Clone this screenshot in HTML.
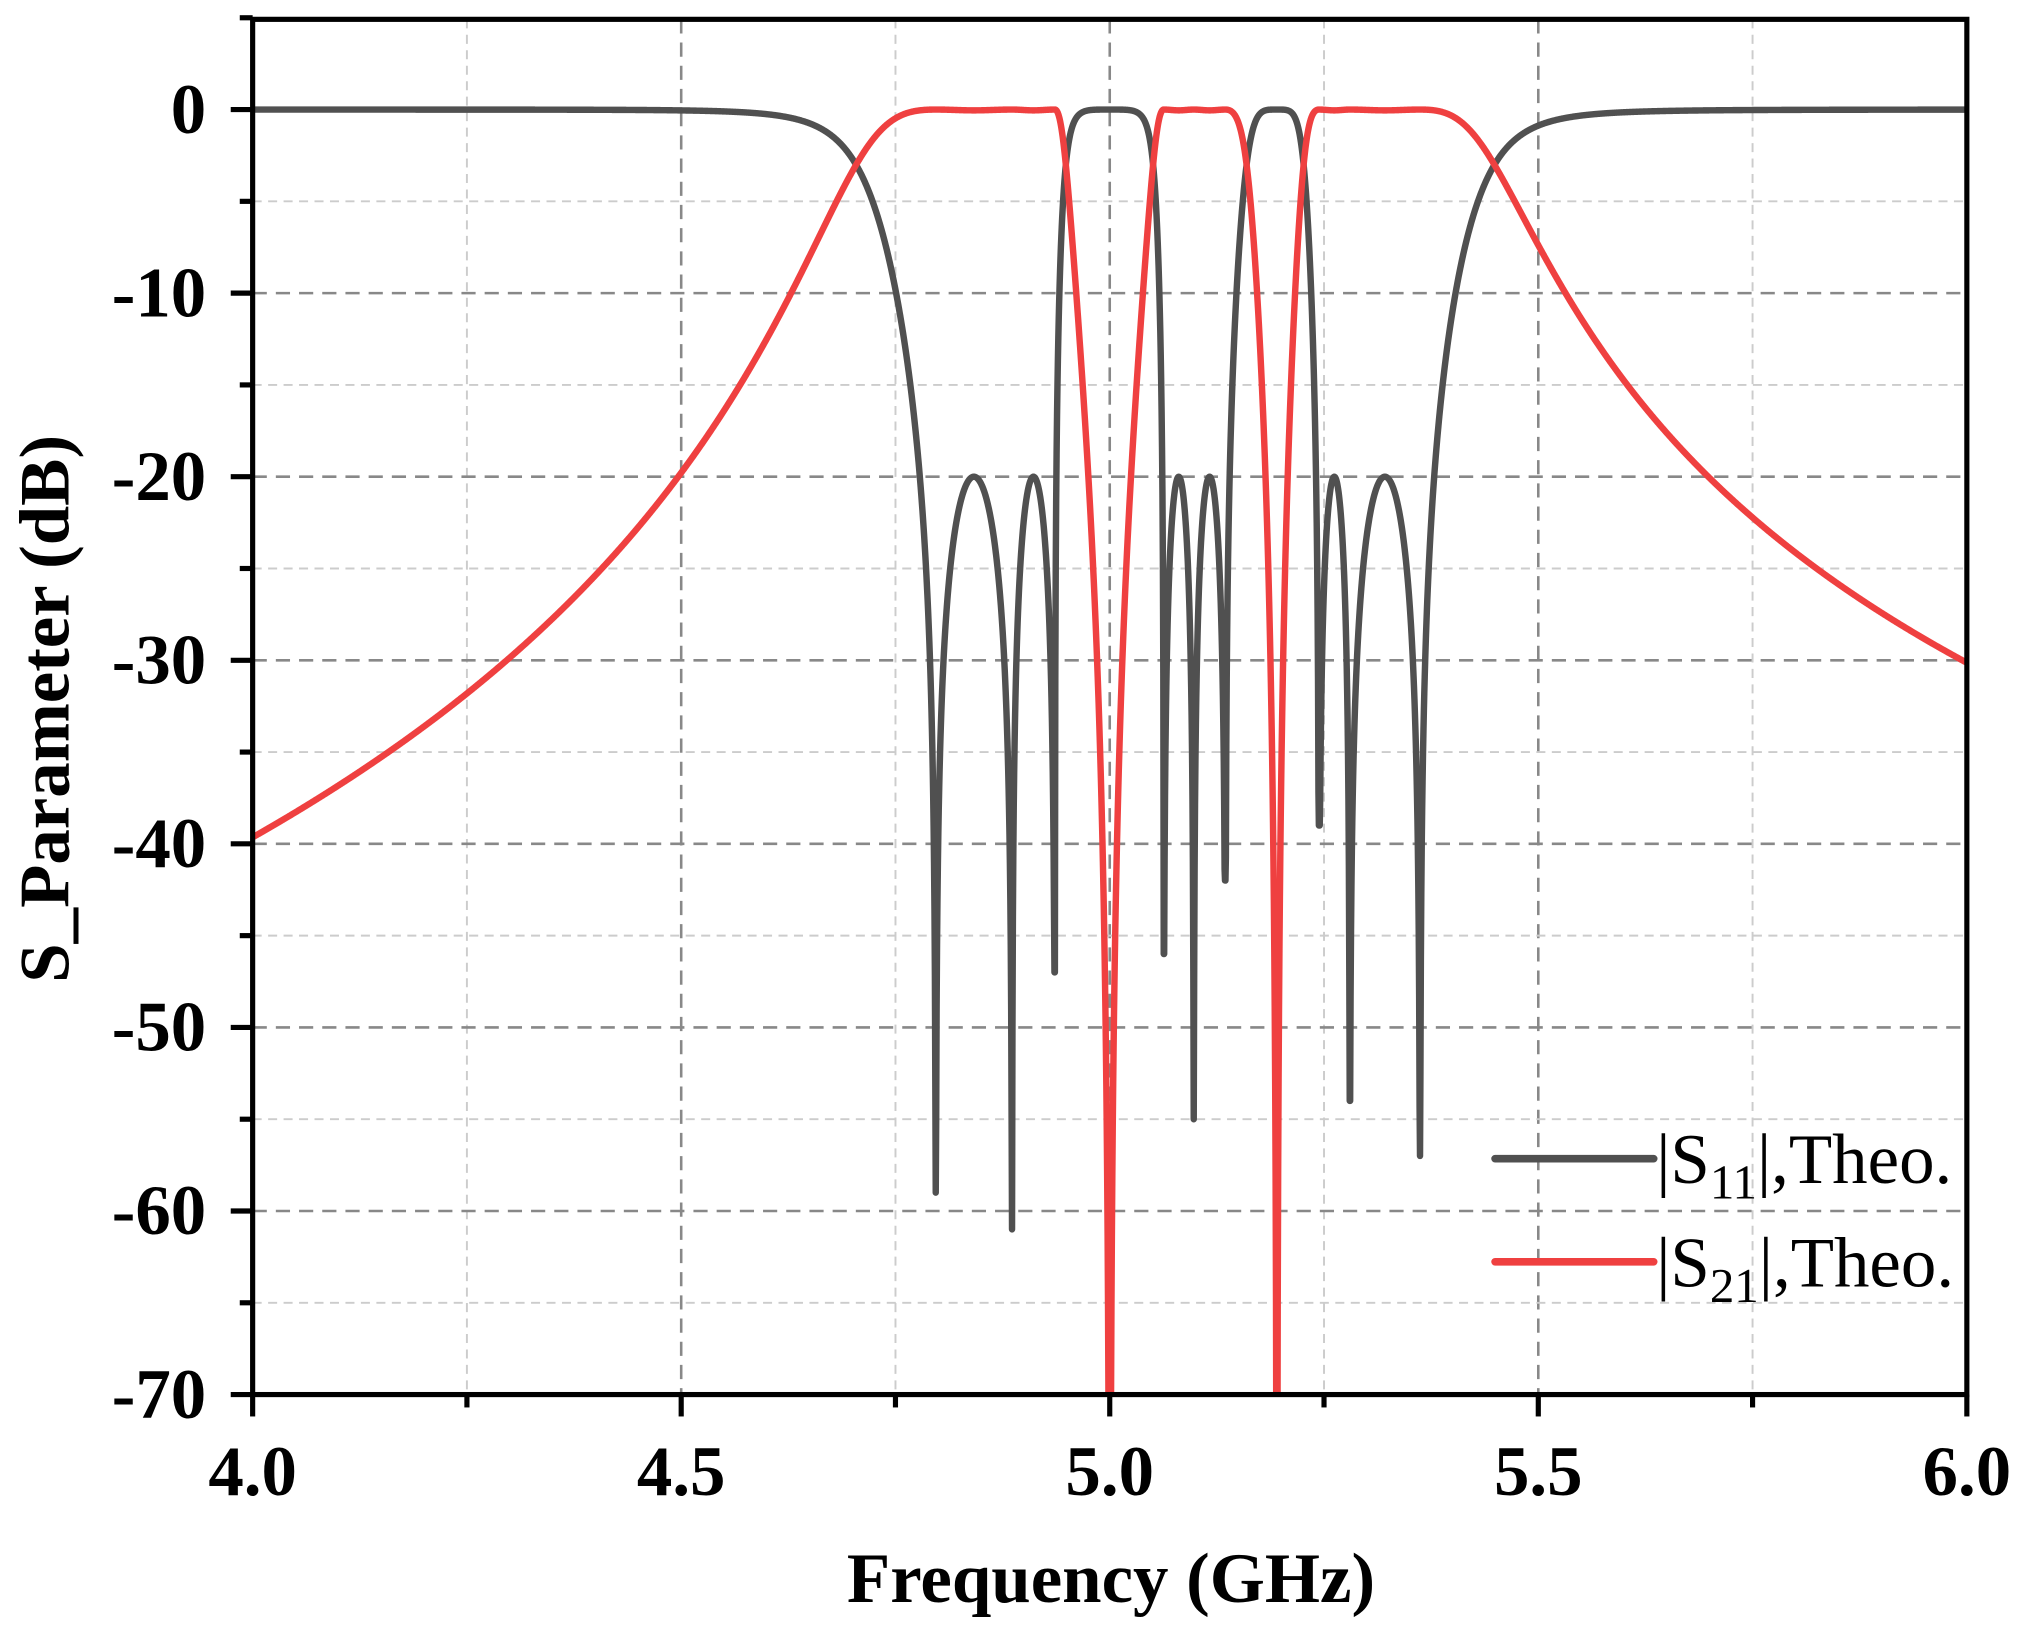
<!DOCTYPE html>
<html><head><meta charset="utf-8"><style>
html,body{margin:0;padding:0;background:#fff;overflow:hidden;width:2021px;height:1633px}
svg{display:block}
text{font-family:"Liberation Serif","Times New Roman",serif;fill:#000}
</style></head><body>
<svg id="s" width="2021" height="1633" viewBox="0 0 1568 1267" xmlns="http://www.w3.org/2000/svg">
<defs><clipPath id="c"><rect x="196" y="15" width="1330" height="1067"/></clipPath></defs>
<g id="grid"></g>
<g clip-path="url(#c)">
<path id="p11" fill="none" stroke="#505050" stroke-width="5" stroke-linejoin="round"/>
<path id="p21" fill="none" stroke="#ef4040" stroke-width="5" stroke-linejoin="round"/>
</g>
<rect x="196" y="15" width="1330" height="1067" fill="none" stroke="#000" stroke-width="4"/>
<g id="ticks" stroke="#000" stroke-width="4"></g>
<g id="labels" font-weight="bold" font-size="55"></g>
<text x="862" y="1243" font-size="55" font-weight="bold" text-anchor="middle">Frequency (GHz)</text>
<text transform="translate(53,550) rotate(-90)" font-size="55" font-weight="bold" text-anchor="middle">S_Parameter (dB)</text>
<line x1="1160" y1="899" x2="1283" y2="899" stroke="#505050" stroke-width="6" stroke-linecap="round"/>
<line x1="1160" y1="979" x2="1283" y2="979" stroke="#ef4040" stroke-width="6" stroke-linecap="round"/>
<text x="1285" y="918" font-size="55">|S<tspan font-size="38" dy="12">11</tspan><tspan dy="-12">|,Theo.</tspan></text>
<text x="1285" y="998" font-size="55">|S<tspan font-size="38" dy="12">21</tspan><tspan dy="-12">|,Theo.</tspan></text>
</svg>
<script>
var NS="http://www.w3.org/2000/svg";
function px(f){return 196+(f-4)*665;}
function py(d){return 85-d*14.243;}
function el(p,t,a){var e=document.createElementNS(NS,t);for(var k in a)e.setAttribute(k,a[k]);p.appendChild(e);return e;}
var g=document.getElementById('grid'),tk=document.getElementById('ticks'),lb=document.getElementById('labels');
for(var i=1;i<8;i++){var f=4+i*0.25;var maj=(i%2==0);
 el(g,'line',{x1:px(f),x2:px(f),y1:15,y2:1082,stroke:maj?'#888':'#ccc','stroke-width':maj?2:1.5,'stroke-dasharray':maj?'11 7':'7 5'});}
for(var d=-65;d<=0;d+=5){var maj=(d%10==0);if(d==0)continue;
 el(g,'line',{x1:196,x2:1526,y1:py(d),y2:py(d),stroke:maj?'#888':'#ccc','stroke-width':maj?2:1.5,'stroke-dasharray':maj?'11 7':'7 5'});}
for(var i=0;i<=8;i++){var f=4+i*0.25;var maj=(i%2==0);el(tk,'line',{x1:px(f),x2:px(f),y1:1082,y2:maj?1099:1092});
 if(maj){var t=el(lb,'text',{x:px(f),y:1160,'text-anchor':'middle'});t.textContent=f.toFixed(1);}}
for(var d=-70;d<=5;d+=5){var maj=(d%10==0);el(tk,'line',{x1:maj?179:186,x2:196,y1:py(d),y2:py(d)});
 if(maj){var t=el(lb,'text',{x:160,y:py(d)+18,'text-anchor':'end'});t.textContent=String(d);}}
var Z=[[4.797,59],[4.886,61],[4.936,47],[5.063,46],[5.098,55],[5.135,42],[5.244,39],[5.280,54],[5.362,57]];
var gaps={2:[5.0,1.8],5:[5.195,0.6]};
function u(f){
 if(f<=Z[0][0]){var fc=4.862,n=2.63,A=142;return A*(Math.pow(fc-f,n)-Math.pow(fc-Z[0][0],n));}
 if(f>=Z[8][0]){var fc=5.335,n=1.93,A=70.7;return A*(Math.pow(f-fc,n)-Math.pow(Z[8][0]-fc,n));}
 for(var i=0;i<8;i++){var a=Z[i][0],b=Z[i+1][0];if(f>=a&&f<=b){
  if(gaps[i]){var t=gaps[i][0],C=gaps[i][1];var q=(f-t);q=q*q;if(q<1e-9)q=1e-9;return C*(f-a)*(b-f)/q;}
  return 0.1005*Math.abs(Math.sin(Math.PI*(f-a)/(b-a)));}}
 return 0;}
function nearDepth(f){var best=1e9,dp=60;for(var i=0;i<9;i++){var d=Math.abs(f-Z[i][0]);if(d<best){best=d;dp=Z[i][1];}}return dp;}
var s11="",s21="";
for(var k=0;k<=4000;k++){var f=4+k*0.0005;var uu=Math.abs(u(f));var u2=uu*uu;
 var a=10*Math.log10(u2/(1+u2)+1e-12);var dp=nearDepth(f);if(a<-dp)a=-dp;
 var b=-10*Math.log10(1+u2);if(b<-90)b=-90;
 s11+=(k?"L":"M")+px(f).toFixed(2)+" "+py(a).toFixed(2);
 s21+=(k?"L":"M")+px(f).toFixed(2)+" "+py(b).toFixed(2);}
document.getElementById('p11').setAttribute('d',s11);
document.getElementById('p21').setAttribute('d',s21);
</script>
</body></html>
